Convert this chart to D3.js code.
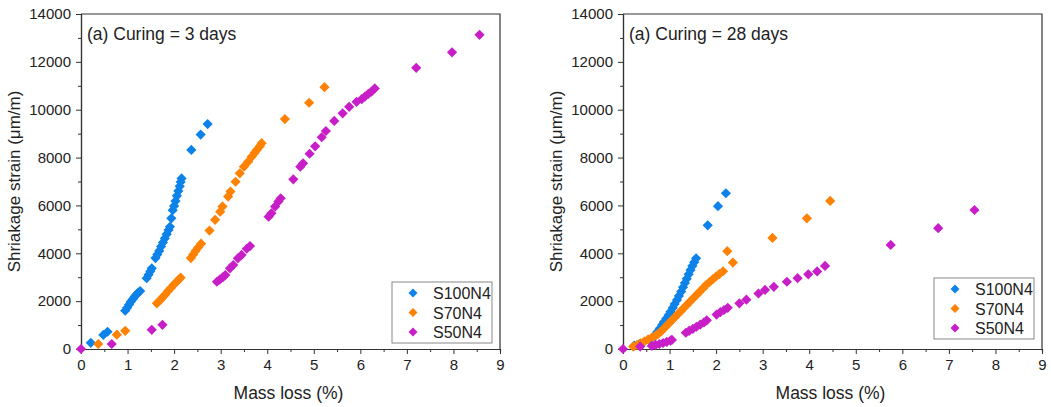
<!DOCTYPE html>
<html>
<head>
<meta charset="utf-8">
<script src="https://cdn.jsdelivr.net/npm/d3@7"></script>
<style>
  body { margin: 0; background: #fff; }
  svg text { font-family: "Liberation Sans", Arial, sans-serif; fill: #222; }
</style>
</head>
<body>
<div id="chart"></div>
<script>
// series names + colours
var seriesNames = ['S100N4', 'S70N4', 'S50N4'];
var colors = ['#0d82e8', '#ff8204', '#c81ec8'];

var xTicks = [0, 1, 2, 3, 4, 5, 6, 7, 8, 9];
var yTicks = [0, 2000, 4000, 6000, 8000, 10000, 12000, 14000];
var panelTitles = ['(a) Curing = 3 days', '(a) Curing = 28 days'];

// curing 3 days  [mass loss %, strain]
var s100_3d = [[0.21,260],[0.48,590],[0.57,720],
  [0.95,1600],[0.99,1720],[1.03,1850],[1.07,1970],[1.11,2080],[1.15,2180],[1.19,2280],[1.23,2360],[1.27,2420],
  [1.41,2960],[1.45,3100],[1.49,3250],[1.52,3370],
  [1.60,3800],[1.64,3950],[1.68,4100],[1.72,4280],[1.76,4450],[1.80,4620],[1.84,4800],[1.88,4970],[1.91,5110],
  [1.94,5460],[1.97,5800],[2.00,5980],[2.03,6180],[2.06,6400],[2.09,6600],[2.12,6800],[2.14,6980],[2.16,7130],
  [2.37,8320],[2.57,8960],[2.72,9400]];
var s70_3d = [[0.37,210],[0.77,600],[0.95,760],
  [1.63,1910],[1.69,2020],[1.75,2150],[1.81,2280],[1.87,2420],[1.93,2550],[1.99,2680],[2.05,2800],[2.10,2900],[2.14,2980],
  [2.36,3800],[2.41,3950],[2.46,4100],[2.52,4250],[2.58,4400],
  [2.76,4950],[2.88,5400],[2.99,5740],[3.04,5960],[3.16,6370],[3.21,6580],
  [3.32,6990],[3.41,7340],[3.50,7620],[3.59,7830],[3.67,8040],[3.73,8200],[3.78,8330],[3.84,8470],[3.88,8600],
  [4.38,9610],[4.90,10290],[5.23,10940]];
var s50_3d = [[0,0],[0.66,210],[1.52,800],[1.75,1010],
  [2.92,2810],[2.98,2900],[3.05,3000],[3.10,3090],
  [3.20,3370],[3.27,3510],[3.37,3790],[3.45,3930],[3.56,4190],[3.63,4300],
  [4.03,5530],[4.09,5670],[4.17,5950],[4.24,6160],[4.29,6300],
  [4.56,7090],[4.71,7620],[4.77,7760],
  [4.91,8160],[5.03,8470],[5.17,8850],[5.26,9110],[5.44,9530],[5.62,9850],[5.76,10120],[5.92,10330],
  [6.03,10440],[6.10,10550],[6.17,10660],[6.24,10760],[6.31,10890],
  [7.20,11750],[7.97,12400],[8.56,13130]];

// curing 28 days
var s100_28d = [[0.24,140],[0.35,200],[0.55,380],[0.62,450],
  [0.69,590],[0.74,720],[0.79,860],[0.84,1000],[0.88,1130],[0.93,1270],[0.98,1420],[1.02,1560],[1.07,1720],
  [1.11,1880],[1.16,2050],[1.20,2220],[1.25,2400],[1.29,2580],[1.33,2760],[1.37,2940],[1.41,3120],[1.45,3300],
  [1.49,3470],[1.53,3630],[1.57,3790],
  [1.82,5170],[2.04,5970],[2.21,6510]];
var s70_28d = [[0.22,100],[0.30,170],[0.38,240],[0.46,320],[0.54,400],[0.62,480],[0.70,560],[0.76,640],[0.82,740],
  [0.88,860],[0.94,980],[1.00,1100],[1.06,1220],[1.12,1340],[1.18,1460],[1.24,1580],[1.30,1700],[1.37,1840],
  [1.44,1980],[1.51,2120],[1.58,2260],[1.65,2400],[1.72,2540],[1.79,2680],[1.86,2800],[1.93,2920],[2.00,3030],
  [2.07,3130],[2.15,3250],
  [2.24,4090],[2.36,3610],[3.21,4640],[3.95,5460],[4.45,6190]];
var s50_28d = [[0,0],[0.37,100],[0.62,130],[0.70,170],[0.78,210],[0.86,250],[0.94,300],[1.02,350],[1.05,380],
  [1.35,680],[1.42,760],[1.50,840],[1.58,930],[1.66,1020],[1.74,1110],[1.80,1200],
  [2.01,1440],[2.09,1540],[2.17,1630],[2.25,1720],
  [2.50,1910],[2.65,2060],
  [2.91,2320],[3.05,2470],[3.24,2600],
  [3.52,2810],[3.75,2960],[3.98,3120],[4.17,3240],[4.34,3470],
  [5.75,4350],[6.77,5050],[7.55,5810]];

var W = 1051, H = 407;
var svg = d3.select('#chart').append('svg')
    .attr('width', W).attr('height', H);

var plotW = 419, plotH = 335;
var panels = [
  {left: 81, top: 14, title: panelTitles[0], data: [s100_3d, s70_3d, s50_3d], legendY: 268},
  {left: 623, top: 14, title: panelTitles[1], data: [s100_28d, s70_28d, s50_28d], legendY: 264}
];

var marker = d3.symbol().type(d3.symbolSquare).size(52);
var markerSmall = d3.symbol().type(d3.symbolSquare).size(40);

panels.forEach(function(p) {
    var g = svg.append('g').attr('transform', 'translate(' + p.left + ',' + p.top + ')');
    var x = d3.scaleLinear().domain([0, 9]).range([0, plotW]);
    var y = d3.scaleLinear().domain([0, 14000]).range([plotH, 0]);

    // minor ticks
    g.append('g').attr('transform', 'translate(0,' + plotH + ')')
        .call(d3.axisBottom(x).tickValues(d3.range(0.5, 9, 1)).tickSize(3).tickFormat(''));
    g.append('g')
        .call(d3.axisLeft(y).tickValues(d3.range(1000, 14000, 2000)).tickSize(3).tickFormat(''));

    g.append('g').attr('transform', 'translate(0,' + plotH + ')')
        .call(d3.axisBottom(x).tickValues(xTicks).tickSize(5).tickSizeOuter(0).tickPadding(5)
            .tickFormat(d3.format('d')));
    g.append('g')
        .call(d3.axisLeft(y).tickValues(yTicks).tickSize(5).tickSizeOuter(0).tickPadding(5)
            .tickFormat(d3.format('d')));
    g.selectAll('.domain').attr('stroke', '#333').attr('stroke-width', 1.2);
    g.selectAll('.tick line').attr('stroke', '#333');
    g.selectAll('.tick text').style('font-size', '15px').attr('fill', '#222');

    // frame top + right
    g.append('path')
        .attr('d', 'M0,0H' + plotW + 'V' + plotH)
        .attr('fill', 'none').attr('stroke', '#333').attr('stroke-width', 1.2);

    // points
    p.data.forEach(function(ser, i) {
        g.append('g').selectAll('path')
            .data(ser)
            .enter()
            .append('path')
            .attr('d', marker)
            .attr('fill', colors[i])
            .attr('transform', function(d) {
                return 'translate(' + x(d[0]) + ',' + y(d[1]) + ') rotate(45)'; });
    });

    g.append('text').attr('x', 6).attr('y', 26)
        .style('font-size', '17.5px').text(p.title);

    g.append('text').attr('x', plotW / 2 - 2).attr('y', 385)
        .attr('text-anchor', 'middle').style('font-size', '17.5px').text('Mass loss (%)');

    g.append('text')
        .attr('transform', 'translate(-61,' + (plotH / 2) + ') rotate(-90)')
        .attr('text-anchor', 'middle').style('font-size', '17px')
        .text('Shriakage strain (\u03bcm/m)');

    // legend
    var lg = g.append('g').attr('transform', 'translate(' + (plotW - 108) + ',' + p.legendY + ')');
    lg.append('rect').attr('width', 100).attr('height', 61)
        .attr('fill', '#fff').attr('stroke', '#888').attr('stroke-width', 1);
    seriesNames.forEach(function(name, i) {
        var ry = 11 + i * 19.5;
        lg.append('path').attr('d', markerSmall).attr('fill', colors[i])
            .attr('transform', 'translate(21,' + ry + ') rotate(45)');
        lg.append('text').attr('x', 41).attr('y', ry + 6)
            .style('font-size', '16px').text(name);
    });
});
</script>
</body>
</html>
